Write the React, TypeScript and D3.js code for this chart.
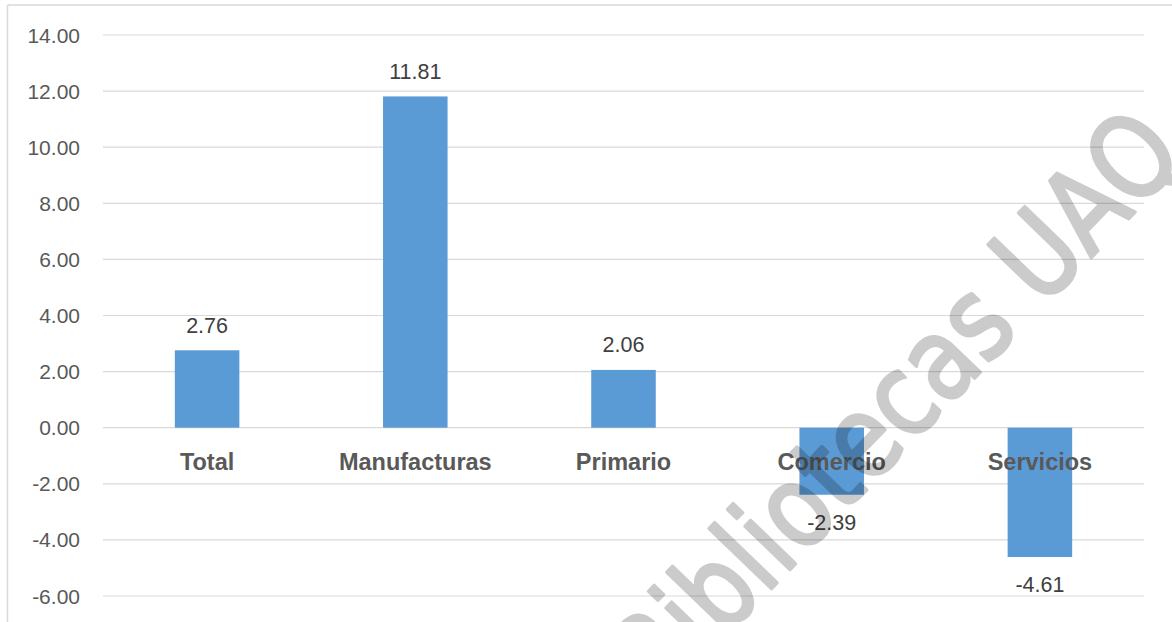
import React from "react";
import * as d3 from "d3";

const categories = ["Total", "Manufacturas", "Primario", "Comercio", "Servicios"];
const values = [2.76, 11.81, 2.06, -2.39, -4.61];
const tickValues = [-6, -4, -2, 0, 2, 4, 6, 8, 10, 12, 14];
const watermarkText = "Bibliotecas UAQ";

const W = 1172;
const H = 622;

const fmt = (v: number) => v.toFixed(2);

export default function App() {
  const x = d3
    .scaleBand<string>()
    .domain(categories)
    .range([103, 1144])
    .paddingInner(0.69)
    .paddingOuter(0.345);
  const y = d3.scaleLinear().domain([-6, 14]).range([596, 35]);
  const font = "'Liberation Sans', Arial, sans-serif";

  const wmStart = [659, 705];

  return (
    <svg
      width={W}
      height={H}
      style={{ position: "absolute", left: 0, top: 0, background: "#fff" }}
      fontFamily={font}
    >
      <rect x={0} y={0} width={W} height={H} fill="#fff" />
      <line x1={7.5} x2={7.5} y1={5} y2={H} stroke="#d9d9d9" strokeWidth={1.5} />
      <line x1={7.5} x2={W} y1={5} y2={5} stroke="#d9d9d9" strokeWidth={1.5} />

      {tickValues.map((t) => (
        <g key={t}>
          <line
            x1={103}
            x2={1144}
            y1={y(t)}
            y2={y(t)}
            stroke="#d9d9d9"
            strokeWidth={1.2}
          />
          <text
            x={80}
            y={y(t)}
            dy="0.36em"
            textAnchor="end"
            fontSize={21}
            fill="#595959"
          >
            {fmt(t)}
          </text>
        </g>
      ))}

      {categories.map((c, i) => {
        const v = values[i];
        const y0 = y(0);
        const y1 = y(v);
        return (
          <rect
            key={c}
            x={x(c)!}
            width={x.bandwidth()}
            y={Math.min(y0, y1)}
            height={Math.abs(y1 - y0)}
            fill="#5b9bd5"
          />
        );
      })}

      {categories.map((c) => (
        <text
          key={"cl" + c}
          x={x(c)! + x.bandwidth() / 2}
          y={470}
          textAnchor="middle"
          fontSize={23.5}
          fontWeight="bold"
          fill="#595959"
        >
          {c}
        </text>
      ))}

      {categories.map((c, i) => {
        const v = values[i];
        const yy = v >= 0 ? y(v) - 17.5 : y(v) + 35;
        return (
          <text
            key={"vl" + c}
            x={x(c)! + x.bandwidth() / 2}
            y={yy}
            textAnchor="middle"
            fontSize={21.5}
            fill="#404040"
          >
            {fmt(v)}
          </text>
        );
      })}

      <g opacity={0.2}>
        <text
          x={wmStart[0]}
          y={wmStart[1]}
          transform={`rotate(-46 ${wmStart[0]} ${wmStart[1]})`}
          fontSize={114}
          fill="#000"
          stroke="#000"
          strokeWidth={3.5}
          strokeLinejoin="round"
          textLength={760}
          lengthAdjust="spacingAndGlyphs"
          fontFamily="'DejaVu Sans', 'Liberation Sans', sans-serif"
        >
          {watermarkText}
        </text>
      </g>
    </svg>
  );
}
